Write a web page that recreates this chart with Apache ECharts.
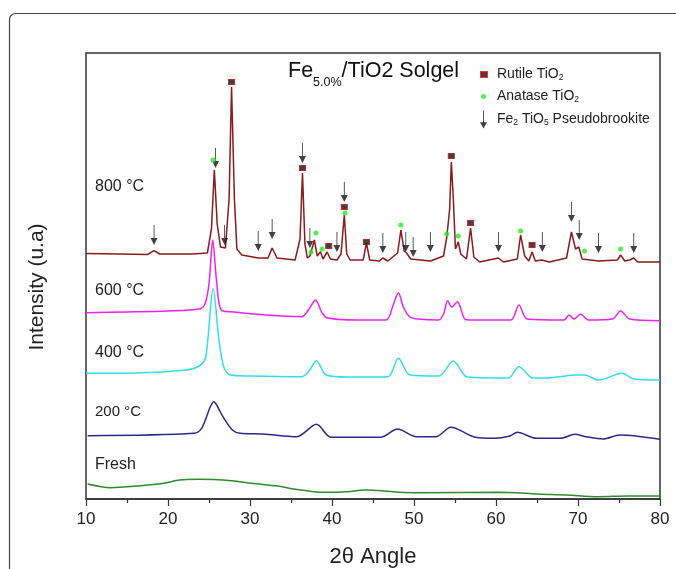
<!DOCTYPE html>
<html><head><meta charset="utf-8">
<script src="https://cdn.jsdelivr.net/npm/echarts@6/dist/echarts.min.js"></script>
<style>html,body{margin:0;padding:0;background:#fff}#c{width:676px;height:569px}</style>
</head><body><div id="c"></div>
<script>
// 2θ (deg), intensity (a.u., offset stacked as in the figure)
const curve800 = [[10,245.5],[14,245],[17.5,244.5],[18.3,248.3],[19,245],[23,245],[24.8,246],[25.3,270],[25.65,329],[26.0,275],[26.4,252],[27.0,251],[27.45,300],[27.75,412],[28.1,300],[28.4,250],[29,244],[31,241],[32.2,241],[32.7,251],[33.3,241],[35.5,239],[36.1,260],[36.4,326],[36.7,255],[37.0,241],[37.3,243],[37.5,242],[37.85,259],[38.2,243],[38.6,247.3],[38.9,240],[39.4,247],[39.8,240],[40.6,239],[41.1,245],[41.5,284],[41.8,245],[42.2,239],[43.8,239],[44.2,256],[44.6,239],[45.8,238],[46.2,241],[46.8,238],[48.0,246],[48.4,269],[48.8,248],[49.1,246],[49.6,240],[52,238],[53.6,243],[54.0,262],[54.35,290],[54.55,337],[54.8,300],[55.05,250],[55.4,257],[55.7,245],[56.4,240],[56.9,271],[57.3,242],[58,237],[60.3,241],[60.9,237],[62.6,240],[63.0,264],[63.5,243],[64.0,238],[64.4,247],[64.8,238],[65.6,239],[66.5,237],[68.6,241],[69.2,267],[69.7,250],[70.1,252],[70.5,240],[72.5,238],[74.8,239],[75.2,244],[75.7,238],[76.3,239],[76.8,241],[77.3,237],[80,237]];
const curve600 = [[10,186.3],[15,187],[20,188],[23.8,190],[24.5,195],[25.0,215],[25.45,259],[25.9,220],[26.5,189],[28,187],[32,184],[36.3,182.3],[37.2,190],[38.0,199],[38.8,186],[39.5,181],[43,179],[46.6,179],[47.5,195],[48.1,206.3],[48.7,192],[49.5,182],[50.5,180],[53,179],[53.6,185],[54.1,198.3],[54.6,192],[55.3,197.3],[56.2,180],[57,179],[61.8,179],[62.8,194],[63.8,180],[68.3,179],[68.9,184],[69.5,180],[70.3,184.7],[71.3,179],[74.2,180],[75.2,188],[76.3,180],[80,178.3]];
const curve400 = [[10,125.7],[16,126],[22.2,129],[23.8,133],[24.6,142],[25.5,210.7],[26.2,160],[26.8,132],[27.6,124],[30,123],[36.3,122.3],[37.2,128],[38.1,138.3],[39.3,124],[42,122],[46.8,122.3],[48.1,140.7],[49.5,124],[53.0,123],[54.8,138],[56.5,122],[61.5,121],[62.8,132.3],[64.5,121],[66,121],[68.5,123],[69.5,124],[70.8,124],[72.5,119],[75.4,125.7],[76.8,120],[80,119]];
const curve200 = [[10.2,63.3],[23.2,65.7],[24.1,70.7],[25.2,93],[25.6,97.3],[26.0,93],[26.7,82.3],[27.85,69],[28.8,65.7],[31.6,65],[35.7,62.3],[38.1,74.7],[39.9,61.7],[45.9,61.7],[48.0,70],[50.3,62.3],[52.65,62.3],[54.5,71.7],[57.5,61.7],[59.8,60.7],[61.7,63],[62.6,66.7],[64.9,60.7],[67.9,60.7],[69.6,64.7],[71.0,62.3],[73.05,60],[75.1,64],[80,59.7]];
const curveFresh = [[10.2,15],[13,11.3],[16.3,13],[19.5,15.7],[21.4,19],[23.7,19.7],[27.8,18.3],[30.2,15.7],[33.4,13],[35.3,10],[39.0,6.7],[41.8,7.3],[44.1,9],[46.4,8],[48.2,6.7],[51.0,6.3],[60.3,6.7],[62.6,6.3],[64.9,5],[68.6,4],[72.4,2.3],[76.1,3],[80,3]];
const rutilePeaks = [[27.75,417],[36.4,331],[39.6,253],[41.5,292],[44.2,257],[54.55,343],[56.9,276],[64.4,254]];
const anatasePeaks = [[25.5,339],[37.45,247],[38.05,266],[38.8,250],[41.6,286],[48.4,274],[54.0,265],[55.4,263],[63.0,268],[70.8,248],[75.2,250]];
const pseudobrookitePeaks = [[18.3,264],[25.8,341],[26.9,264],[31.0,258],[32.7,270],[36.4,346],[37.3,261],[40.6,257],[41.5,307],[46.2,256],[49.0,257],[49.9,252],[52.0,257],[60.3,257],[65.65,257],[69.2,287],[70.15,269],[72.5,256],[76.8,256]];
const sampleNames = ['800 °C','600 °C','400 °C','200 °C','Fresh'];
const xTickLabels = ['10','20','30','40','50','60','70','80'];

const FONT = '"Liberation Sans", Arial, sans-serif';
const arrowPath = 'path://M4.5,0L5.5,0L5.5,13L9,13L5,20L1,13L4.5,13Z';
const chart = echarts.init(document.getElementById('c'), null, {renderer:'canvas'});
const lineSeries = (name, data, color, smooth) => ({
  name, type:'line', data, showSymbol:false, symbol:'none', smooth,
  lineStyle:{color, width:1.5}, silent:true, z:2
});
const sampleLabelPos = [187, 290.5, 353, 412, 465];
const legendRich = (padLeft) => ({
  n:{fontSize:14, lineHeight:16, color:'#222', fontFamily:FONT, fontWeight:'normal', padding:[0,0,0,padLeft]},
  m:{fontSize:14, lineHeight:16, color:'#222', fontFamily:FONT, fontWeight:'normal'},
  s:{fontSize:8.5, lineHeight:8, color:'#222', fontFamily:FONT, fontWeight:'normal', padding:[6,0,0,0]}
});
const option = {
  backgroundColor:'#fff',
  animation:false,
  textStyle:{fontFamily:FONT},
  title:{
    text:'{a|Fe}{b|5.0%}{a|/TiO2 Solgel}',
    left:288, top:59, padding:0,
    textStyle:{fontWeight:'normal', rich:{
      a:{fontSize:21.5, lineHeight:24, color:'#111', fontFamily:FONT, fontWeight:'normal'},
      b:{fontSize:12.5, lineHeight:12, color:'#111', fontFamily:FONT, fontWeight:'normal', padding:[24,0,0,0]}
    }}
  },
  legend:[
    {data:['Rutile TiO2'], left:480, top:67, padding:0, itemWidth:6, itemHeight:5, orient:'vertical',
     formatter:()=> '{n|Rutile TiO}{s|2}', textStyle:{rich:legendRich(5)}},
    {data:['Anatase TiO2'], left:481, top:89, padding:0, itemWidth:5, itemHeight:5, orient:'vertical',
     formatter:()=> '{n|Anatase TiO}{s|2}', textStyle:{rich:legendRich(6)}},
    {data:[{name:'Fe2 TiO5 Pseudobrookite', icon:arrowPath}], left:480, top:110.5, padding:0, itemWidth:7, itemHeight:18, orient:'vertical', symbolKeepAspect:false,
     formatter:()=> '{n|Fe}{s|2}{m| TiO}{s|5}{m| Pseudobrookite}', textStyle:{rich:legendRich(5)}}
  ],
  grid:{left:86, right:16, top:53, bottom:70, show:true, borderColor:'#333', borderWidth:1.5, backgroundColor:'transparent', outerBoundsMode:'none', containLabel:false},
  xAxis:{
    type:'value', min:10, max:80, interval:10,
    name:'2θ Angle', nameLocation:'middle', nameGap:47,
    nameTextStyle:{fontSize:22, color:'#222', fontFamily:FONT},
    axisLine:{show:true, lineStyle:{color:'#333', width:1.5}},
    axisTick:{show:true, inside:false, length:7, lineStyle:{color:'#333', width:1.2}},
    minorTick:{show:true, splitNumber:2, length:4, lineStyle:{color:'#333', width:1.2}},
    axisLabel:{fontSize:17, color:'#222', margin:12, fontFamily:FONT,
      formatter:(v)=> xTickLabels[Math.round((v-10)/10)] ?? ''},
    splitLine:{show:false}
  },
  yAxis:{
    type:'value', min:0, max:446,
    name:'Intensity (u.a)', nameLocation:'middle', nameGap:38,
    nameTextStyle:{fontSize:21, color:'#222', fontFamily:FONT, padding:[0,22,0,0]},
    axisLine:{show:false}, axisTick:{show:false}, axisLabel:{show:false}, splitLine:{show:false}
  },
  graphic:[
    {type:'rect', shape:{x:9.5, y:13.5, width:700, height:600, r:6}, style:{fill:'none', stroke:'#444', lineWidth:1.2}, silent:true, z:-1},
    ...sampleNames.map((t,i)=>({type:'text', x:95, y:sampleLabelPos[i],
      style:{text:t, font:(i===3?'15px ':'16px ')+FONT, fill:'#222', verticalAlign:'middle'}, silent:true}))
  ],
  series:[
    lineSeries('800', curve800, '#8b1a1a', false),
    lineSeries('600', curve600, '#ee22ee', 0.3),
    lineSeries('400', curve400, '#33dde6', 0.3),
    lineSeries('200', curve200, '#2a2a86', 0.3),
    lineSeries('fresh', curveFresh, '#2e8b2e', 0.3),
    {name:'Rutile TiO2', type:'scatter', data:rutilePeaks, symbol:'rect', symbolSize:[6,5],
     itemStyle:{color:'#111', borderColor:'#c01010', borderWidth:1}, z:5, silent:true},
    {name:'Anatase TiO2', type:'scatter', data:anatasePeaks, symbol:'circle', symbolSize:5,
     itemStyle:{color:'#22ee22'}, z:5, silent:true},
    {name:'Fe2 TiO5 Pseudobrookite', type:'scatter', data:pseudobrookitePeaks, symbol:arrowPath, symbolSize:[7,20],
     itemStyle:{color:'#111'}, z:4, silent:true}
  ]
};
chart.setOption(option);
</script></body></html>
